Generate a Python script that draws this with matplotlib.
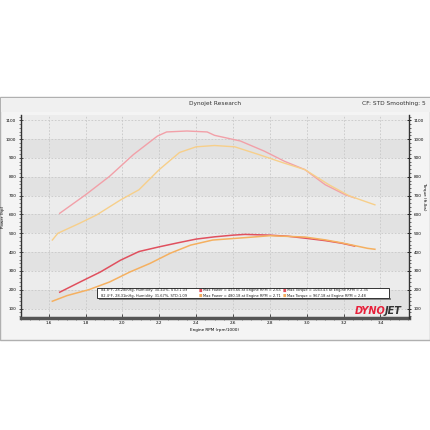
import matplotlib.pyplot as plt
import matplotlib.patches as patches
import numpy as np

# run 1 (red)
rpm_p1 = [1.66, 1.77, 1.88, 1.99, 2.09, 2.20, 2.30, 2.40, 2.50, 2.60, 2.665, 2.80, 2.90, 2.99, 3.10, 3.19, 3.26]
pwr_1 = [187, 241, 294, 357, 403, 428, 449, 469, 481, 490, 494, 490, 484, 474, 461, 447, 432]
rpm_t1 = [1.66, 1.80, 1.93, 2.06, 2.19, 2.24, 2.35, 2.46, 2.50, 2.64, 2.77, 2.88, 2.99, 3.10, 3.21, 3.26]
trq_1 = [606, 704, 802, 918, 1016, 1038, 1043, 1038, 1020, 990, 936, 882, 838, 758, 704, 688]

# run 2 (orange)
rpm_p2 = [1.62, 1.70, 1.82, 1.93, 2.04, 2.15, 2.26, 2.37, 2.49, 2.60, 2.71, 2.80, 2.99, 3.10, 3.19, 3.33, 3.37]
pwr_2 = [139, 169, 201, 241, 294, 340, 394, 437, 464, 472, 480, 487, 480, 465, 449, 420, 415]
rpm_t2 = [1.62, 1.65, 1.77, 1.86, 1.99, 2.09, 2.20, 2.31, 2.40, 2.50, 2.61, 2.74, 2.87, 2.99, 3.12, 3.23, 3.32, 3.37]
trq_2 = [464, 500, 554, 597, 677, 731, 838, 929, 959, 966, 959, 918, 875, 838, 758, 699, 668, 651]

legend_rows = [
    ["84.8°F, 28.28inHg, Humidity: 30.40%, STD:1.09", "Max Power = 493.66 at Engine RPM = 2.65", "Max Torque = 1043.43 at Engine RPM = 2.35"],
    ["82.4°F, 28.31inHg, Humidity: 31.67%, STD:1.09", "Max Power = 480.18 at Engine RPM = 2.71", "Max Torque = 967.18 at Engine RPM = 2.48"],
]
xticks = [1.6, 1.8, 2.0, 2.2, 2.4, 2.6, 2.8, 3.0, 3.2, 3.4]
yticks = [100, 200, 300, 400, 500, 600, 700, 800, 900, 1000, 1100]

red = "#e0505e"
red_t = "#f2a0a8"
org = "#f5b060"
org_t = "#f7cf8a"

fig = plt.figure(figsize=(4.3, 4.3), dpi=100)
fig.patch.set_facecolor("white")

# outer frame and title bar
fig.patches.append(patches.Rectangle((0.0, 430 - 340), 430, 243, transform=None,
                                     facecolor="#f4f4f4", edgecolor="#b0b0b0", lw=1, zorder=-2))
fig.patches.append(patches.Rectangle((0.5, 430 - 112), 429, 14, transform=None,
                                     facecolor="#f0f0f0", edgecolor="none", zorder=-1))
fig.text(215 / 430, 1 - 104 / 430, "Dynojet Research", fontsize=4.2, ha="center", va="center", color="#333333")
fig.text(426 / 430, 1 - 104 / 430, "CF: STD Smoothing: 5", fontsize=4.2, ha="right", va="center", color="#333333")

ax = fig.add_axes([21 / 430, 1 - 318 / 430, 388 / 430, 203 / 430])
ax.set_facecolor("#ececec")
ax.set_xlim(1.45, 3.555)
ax.set_ylim(50, 1128)

for lo in [100, 300, 500, 700, 900]:
    ax.axhspan(lo, lo + 100, color="#dcdcdc", alpha=0.6, lw=0, zorder=0)

ax.set_xticks(xticks)
ax.set_yticks(yticks)
ax.set_xticks(np.arange(1.45, 3.56, 0.05), minor=True)
ax.set_yticks(np.arange(60, 1121, 20), minor=True)
ax.grid(True, which="major", ls=(0, (2, 2)), color="#c8c8c8", lw=0.6)
ax.tick_params(axis="both", which="major", labelsize=3, length=3, width=0.6, color="#333333", pad=2)
ax.tick_params(axis="both", which="minor", length=1.5, width=0.4, color="#333333")
ax.tick_params(axis="x", direction="in")
ax.tick_params(axis="y", direction="inout")
for s in ["top", "right"]:
    ax.spines[s].set_visible(False)
ax.spines["left"].set_color("#333333")
ax.spines["left"].set_linewidth(1.0)
ax.spines["bottom"].set_color("#555555")
ax.spines["bottom"].set_linewidth(2.5)
ax.set_xlabel("Engine RPM (rpm/1000)", fontsize=3, labelpad=2)
ax.set_ylabel("Power (hp)", fontsize=3)
ax.yaxis.set_label_coords(-0.04, 0.5)

ax.plot(rpm_t1, trq_1, color=red_t, lw=1.0, zorder=3)
ax.plot(rpm_t2, trq_2, color=org_t, lw=1.0, zorder=3)
ax.plot(rpm_p1, pwr_1, color=red, lw=1.1, zorder=4)
ax.plot(rpm_p2, pwr_2, color=org, lw=1.1, zorder=4)

ax2 = ax.twinx()
ax2.set_ylim(50, 1128)
ax2.set_yticks(yticks)
ax2.set_yticks(np.arange(60, 1121, 20), minor=True)
ax2.tick_params(axis="y", which="major", labelsize=3, length=3, width=0.6, direction="inout", pad=2)
ax2.tick_params(axis="y", which="minor", length=1.5, width=0.4)
for s in ["top", "left", "bottom"]:
    ax2.spines[s].set_visible(False)
ax2.spines["right"].set_color("#333333")
ax2.spines["right"].set_linewidth(1.0)
ax2.set_ylabel("Torque (ft-lbs)", fontsize=3, rotation=270, va="center")
ax2.yaxis.set_label_coords(1.04, 0.6)

# legend box
fig.patches.append(patches.Rectangle((99, 430 - 300), 292, 2, transform=None,
                                     facecolor="#888888", edgecolor="none", zorder=4))
fig.patches.append(patches.Rectangle((97, 430 - 298), 292, 10, transform=None, facecolor="white",
                                     edgecolor="#333333", lw=0.7, zorder=5))
row_y = [290.5, 295.5]
for r, row in enumerate(legend_rows):
    y = 1 - row_y[r] / 430
    c = red if r == 0 else org
    fig.text(101 / 430, y, row[0], fontsize=2.6, va="center", color="#222222", zorder=6)
    fig.text(199 / 430, y, "■", fontsize=2.6, va="center", color=c, zorder=6)
    fig.text(203 / 430, y, row[1], fontsize=2.6, va="center", color="#222222", zorder=6)
    fig.text(283 / 430, y, "■", fontsize=2.6, va="center", color=c, zorder=6)
    fig.text(287 / 430, y, row[2], fontsize=2.6, va="center", color="#222222", zorder=6)

# DYNOJET logo
fig.text(355 / 430, 1 - 311 / 430, "DYNO", fontsize=7, fontweight="bold", style="italic",
         color="#e8203a", ha="left", va="center", zorder=6)
fig.text(385 / 430, 1 - 311 / 430, "JET", fontsize=7, fontweight="bold", style="italic",
         color="#333333", ha="left", va="center", zorder=6)

fig.savefig("out.png", dpi=100)
